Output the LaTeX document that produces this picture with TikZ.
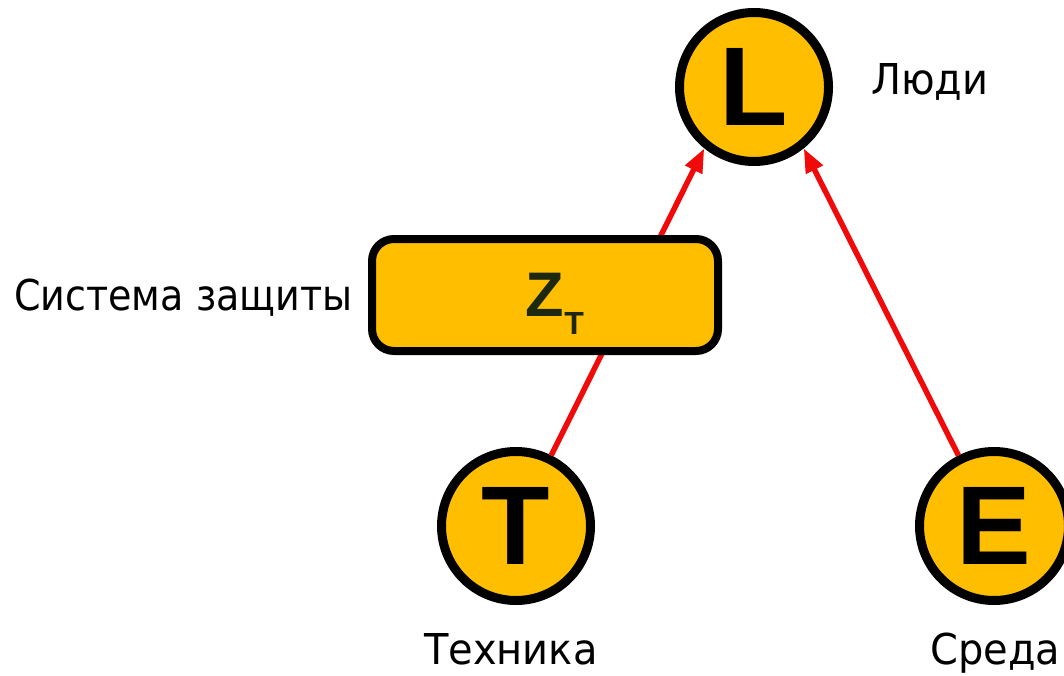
\documentclass[tikz,border=0pt]{standalone}
\usepackage{fontspec}
\setmainfont{DejaVu Sans}
\newfontfamily\lblfont[FakeStretch=0.94]{DejaVu Sans}
\newfontfamily\lblnarrow[FakeStretch=0.895]{DejaVu Sans}
\newfontfamily\letterfont{Liberation Sans}
\usetikzlibrary{arrows.meta}
\definecolor{amber}{RGB}{255,190,0}
\definecolor{zdark}{RGB}{28,40,16}
\definecolor{arrred}{RGB}{240,10,10}
\begin{document}
\begin{tikzpicture}[x=1pt,y=-1pt,
 ball/.style={circle,draw=black,line width=9pt,fill=amber,minimum size=149pt,inner sep=0pt,font=\letterfont\bfseries\fontsize{112}{112}\selectfont},
 zbox/.style={rectangle,rounded corners=22pt,draw=black,line width=8pt,fill=amber,minimum width=346pt,minimum height=112pt,inner sep=0pt,text=zdark,font=\letterfont\bfseries\fontsize{63}{63}\selectfont},
 lbl/.style={inner sep=0pt,anchor=base west,font=\lblfont\fontsize{42.5}{42.5}\selectfont},
 arr/.style={draw=arrred,line width=5.5pt,-{Triangle[length=24pt,width=18pt]}}]
\useasboundingbox (0,0) rectangle (1064,676);
\node[ball] (L) at (754,87) {L};
\node[ball] (T) at (516,526) {T};
\node[ball] (E) at (994,526) {E};
\draw[arr] (T) -- (L.231);
\draw[arr] (E) -- (L.309);
\node[zbox] (Z) at (545,295) {Z\rlap{\raisebox{-18pt}[0pt][0pt]{\fontsize{32}{32}\selectfont T}}};
\node[lbl] (lp) at (871,95) {Люди};
\node[lbl,font=\lblnarrow\fontsize{42.5}{42.5}\selectfont] (ls) at (14,310) {Система защиты};
\node[lbl] (lt) at (424,664) {Техника};
\node[lbl] (le) at (930,664) {Среда};
\end{tikzpicture}
\end{document}
